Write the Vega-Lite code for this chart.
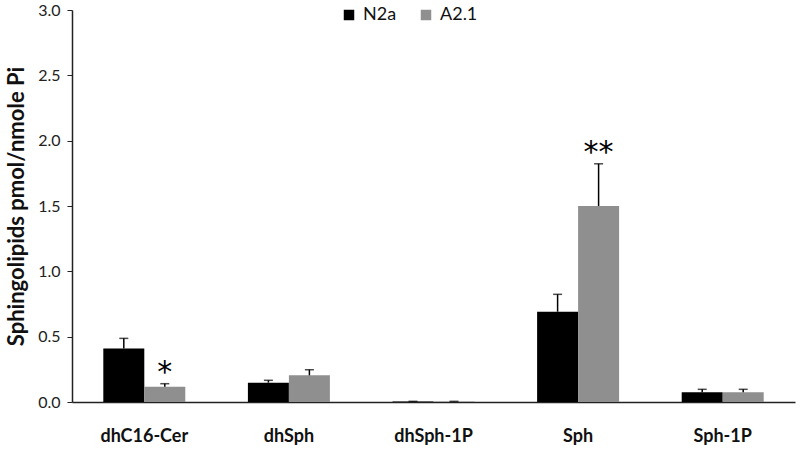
{
  "$schema": "https://vega.github.io/schema/vega-lite/v6.json",
  "width": 723,
  "height": 392,
  "autosize": {"type": "none"},
  "padding": {"left": 72, "top": 10, "right": 5, "bottom": 48},
  "background": "white",
  "config": {"font": "Lato", "view": {"stroke": null}},
  "data": {"values": [
    {"lipid": "dhC16-Cer", "line": "N2a", "mean": 0.41, "upper": 0.487, "sig": ""},
    {"lipid": "dhC16-Cer", "line": "A2.1", "mean": 0.117, "upper": 0.14, "sig": "*"},
    {"lipid": "dhSph", "line": "N2a", "mean": 0.148, "upper": 0.166, "sig": ""},
    {"lipid": "dhSph", "line": "A2.1", "mean": 0.204, "upper": 0.247, "sig": ""},
    {"lipid": "dhSph-1P", "line": "N2a", "mean": 0.003, "upper": 0.005, "sig": ""},
    {"lipid": "dhSph-1P", "line": "A2.1", "mean": 0.003, "upper": 0.005, "sig": ""},
    {"lipid": "Sph", "line": "N2a", "mean": 0.691, "upper": 0.824, "sig": ""},
    {"lipid": "Sph", "line": "A2.1", "mean": 1.5, "upper": 1.823, "sig": "**"},
    {"lipid": "Sph-1P", "line": "N2a", "mean": 0.074, "upper": 0.097, "sig": ""},
    {"lipid": "Sph-1P", "line": "A2.1", "mean": 0.074, "upper": 0.097, "sig": ""}
  ]},
  "encoding": {
    "x": {
      "field": "lipid", "type": "nominal",
      "sort": ["dhC16-Cer", "dhSph", "dhSph-1P", "Sph", "Sph-1P"],
      "scale": {"paddingInner": 0.433, "paddingOuter": 0.2165},
      "axis": {
        "title": null, "labelAngle": 0, "ticks": false, "labelPadding": 25,
        "labelFont": "Lato", "labelFontSize": 18, "labelFontWeight": "bold", "labelColor": "#111111",
        "domainColor": "#222222", "domainWidth": 1.5
      }
    },
    "xOffset": {"field": "line", "type": "nominal", "sort": ["N2a", "A2.1"], "scale": {"paddingInner": 0, "paddingOuter": 0}}
  },
  "layer": [
    {
      "mark": {"type": "bar"},
      "encoding": {
        "y": {
          "field": "mean", "type": "quantitative",
          "scale": {"domain": [0, 3], "nice": false},
          "axis": {
            "title": "Sphingolipids pmol/nmole Pi", "values": [0, 0.5, 1, 1.5, 2, 2.5, 3],
            "format": ".1f", "grid": false, "tickSize": 5, "tickColor": "#222222",
            "domainColor": "#222222", "domainWidth": 1.5, "labelFontSize": 16, "labelColor": "#222222",
            "labelPadding": 7, "titleFontSize": 22, "titleFontWeight": "bold", "titleColor": "#111111",
            "titlePadding": 9
          }
        },
        "color": {
          "field": "line", "type": "nominal", "sort": ["N2a", "A2.1"],
          "scale": {"domain": ["N2a", "A2.1"], "range": ["#000000", "#8f8f8f"]},
          "legend": {
            "title": null, "orient": "none", "direction": "horizontal",
            "legendX": 268, "legendY": -4, "symbolType": "square", "symbolSize": 110,
            "symbolStrokeWidth": 0, "labelFontSize": 18, "labelColor": "#111111",
            "labelOffset": 5, "columnPadding": 20
          }
        }
      }
    },
    {
      "mark": {"type": "rule", "color": "#000000", "strokeWidth": 1.5},
      "encoding": {
        "y": {"field": "mean", "type": "quantitative"},
        "y2": {"field": "upper"}
      }
    },
    {
      "mark": {"type": "tick", "color": "#000000", "thickness": 1.5, "size": 9, "orient": "horizontal"},
      "encoding": {
        "y": {"field": "upper", "type": "quantitative"}
      }
    },
    {
      "mark": {"type": "text", "fontSize": 30, "font": "DejaVu Sans", "baseline": "bottom", "dy": 4, "color": "#000000"},
      "encoding": {
        "y": {"field": "upper", "type": "quantitative"},
        "text": {"field": "sig"}
      }
    }
  ]
}
